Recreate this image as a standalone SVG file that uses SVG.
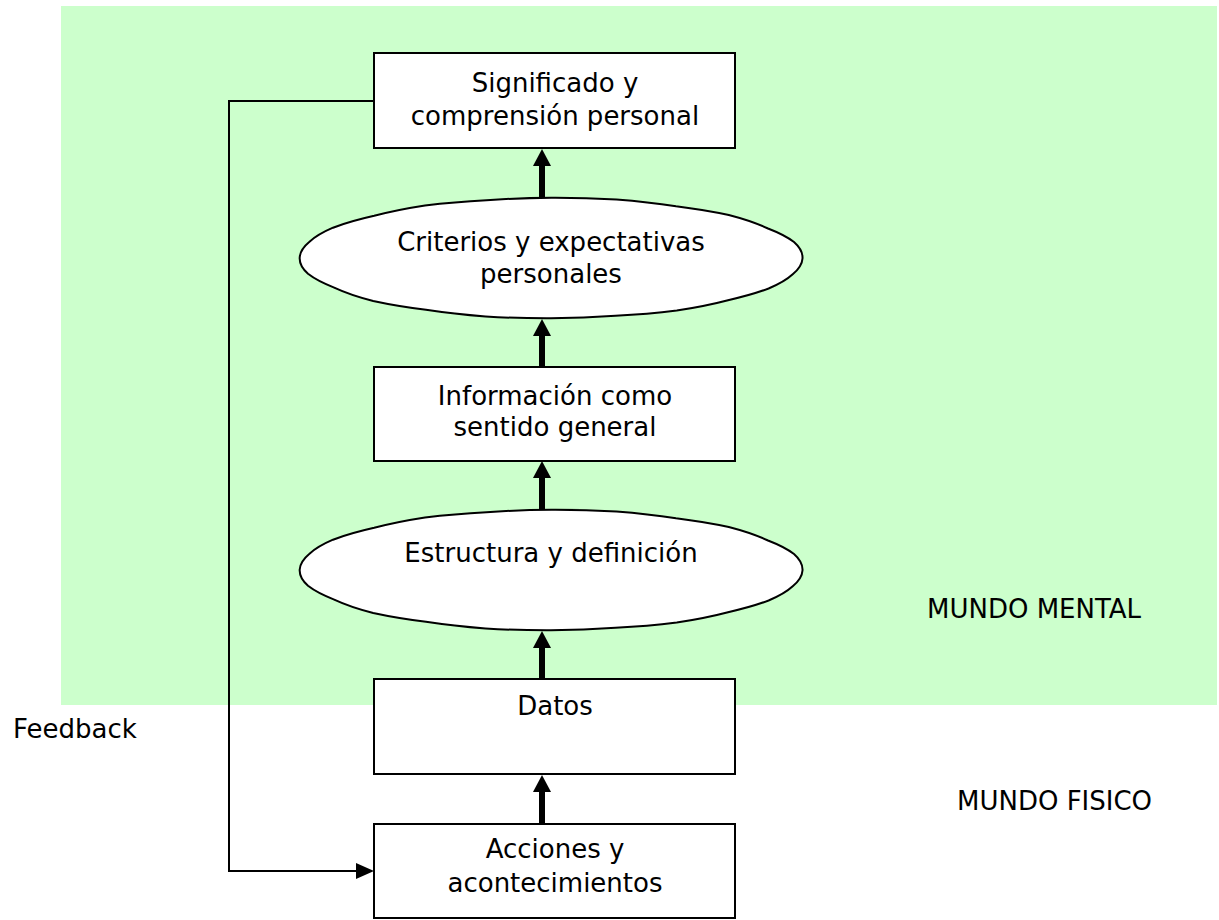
<svg xmlns="http://www.w3.org/2000/svg" xmlns:xlink="http://www.w3.org/1999/xlink" width="1219" height="920" viewBox="0 0 1219 920">
  <style>
    .box { fill: #ffffff; stroke: #000000; stroke-width: 2; }
    .cloud { fill: #ffffff; stroke: #000000; stroke-width: 2; stroke-linejoin: round; }
    .t { font-family: "DejaVu Sans", Verdana, sans-serif; font-size: 26px; fill: #000000; }
    .mid { text-anchor: middle; }
    .thick { stroke: #000000; stroke-width: 6; fill: none; }
    .thin { stroke: #000000; stroke-width: 2; fill: none; }
    .head { fill: #000000; }
  </style>
  <defs>
    <path id="cloudShape" d="M251.5,0.5 A251,60 0 0,1 242,16 A251,60 0 0,1 217.6,30.5 A251,60 0 0,1 177,42.2 A251,60 0 0,1 125.8,52.5 A251,60 0 0,1 64.5,57.8 A251,60 0 0,1 0,60.3 A251,60 0 0,1 -65.5,58.5 A251,60 0 0,1 -125,51.8 A251,60 0 0,1 -177.8,43 A251,60 0 0,1 -216.8,29.6 A251,60 0 0,1 -243,15.8 A251,60 0 0,1 -251.3,-0.5 A251,60 0 0,1 -241.8,-16 A251,60 0 0,1 -218,-30.3 A251,60 0 0,1 -176.8,-42.2 A251,60 0 0,1 -126,-52.5 A251,60 0 0,1 -64.5,-57.8 A251,60 0 0,1 0.5,-60.3 A251,60 0 0,1 65.5,-58.5 A251,60 0 0,1 125,-51.8 A251,60 0 0,1 177.8,-43 A251,60 0 0,1 217,-29.5 A251,60 0 0,1 243,-16 A251,60 0 0,1 251.5,0.5 Z"/>
    <path id="upHead" d="M0,0 L9,17 L-9,17 Z"/>
  </defs>

  <rect id="mundo-mental-area" x="61" y="6" width="1156" height="699" fill="#CCFFCC"/>

  <g id="connectors">
    <line class="thick" x1="542" y1="198" x2="542" y2="163"/>
    <use xlink:href="#upHead" class="head" x="542" y="149"/>
    <line class="thick" x1="542" y1="367" x2="542" y2="333"/>
    <use xlink:href="#upHead" class="head" x="542" y="319"/>
    <line class="thick" x1="542" y1="510" x2="542" y2="475"/>
    <use xlink:href="#upHead" class="head" x="542" y="461"/>
    <line class="thick" x1="542" y1="679" x2="542" y2="645"/>
    <use xlink:href="#upHead" class="head" x="542" y="631"/>
    <line class="thick" x1="542" y1="824" x2="542" y2="789"/>
    <use xlink:href="#upHead" class="head" x="542" y="775"/>
    <polyline class="thin" points="374,101 229,101 229,871 360,871"/>
    <polygon class="head" points="374,871 356,863 356,879"/>
  </g>

  <g id="significado">
    <rect class="box" x="374" y="53" width="361" height="95"/>
    <text class="t mid" x="555" y="92">Significado y</text>
    <text class="t mid" x="555" y="125">comprensión personal</text>
  </g>

  <g id="criterios">
    <use xlink:href="#cloudShape" class="cloud" x="551" y="258"/>
    <text class="t mid" x="551" y="251">Criterios y expectativas</text>
    <text class="t mid" x="551" y="283">personales</text>
  </g>

  <g id="informacion">
    <rect class="box" x="374" y="367" width="361" height="94"/>
    <text class="t mid" x="555" y="405">Información como</text>
    <text class="t mid" x="555" y="436">sentido general</text>
  </g>

  <g id="estructura">
    <use xlink:href="#cloudShape" class="cloud" x="551" y="570"/>
    <text class="t mid" x="551" y="562">Estructura y definición</text>
  </g>

  <g id="datos">
    <rect class="box" x="374" y="679" width="361" height="95"/>
    <text class="t mid" x="555" y="715">Datos</text>
  </g>

  <g id="acciones">
    <rect class="box" x="374" y="824" width="361" height="94"/>
    <text class="t mid" x="555" y="858">Acciones y</text>
    <text class="t mid" x="555" y="892">acontecimientos</text>
  </g>

  <g id="labels">
    <text class="t" x="13" y="738">Feedback</text>
    <text class="t" x="927" y="618">MUNDO MENTAL</text>
    <text class="t" x="957" y="810">MUNDO FISICO</text>
  </g>
</svg>
